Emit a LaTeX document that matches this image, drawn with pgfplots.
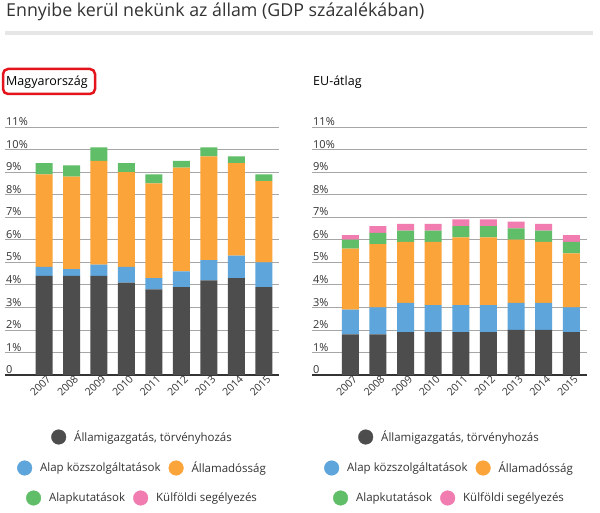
\documentclass[border=0pt]{standalone}
\usepackage{fontspec}
\setmainfont{Open Sans}
\usepackage{pgfplots}
\pgfplotsset{compat=1.18}
\definecolor{cDark}{HTML}{4D4D4D}
\definecolor{cBlue}{HTML}{5DA5DA}
\definecolor{cOrange}{HTML}{FAA43A}
\definecolor{cGreen}{HTML}{60BD68}
\definecolor{cPink}{HTML}{F17CB0}
\definecolor{cText}{HTML}{333333}
\definecolor{cGrid}{HTML}{A6A6A6}
\definecolor{cRule}{HTML}{E6E6E6}
\definecolor{cRed}{HTML}{E3141B}

\pgfplotsset{
  panel/.style={
    scale only axis, width=274pt, height=248pt, anchor=south west,
    ybar stacked, bar width=17pt,
    ymin=0, ymax=11,
    axis x line=bottom, axis y line=left,
    x axis line style={draw=cText, line width=1.4pt, -},
    y axis line style={draw=none},
    major tick length=0pt,
    ytick={0,1,...,11},
    yticklabels={0,1\%,2\%,3\%,4\%,5\%,6\%,7\%,8\%,9\%,10\%,11\%},
    xtick={0,1,...,8},
    xticklabels={2007,2008,2009,2010,2011,2012,2013,2014,2015},
    /pgf/number format/assume math mode=true,
    ymajorgrids, grid style={draw=cGrid, line width=0.8pt},
    yticklabel style={anchor=south west, font=\fontsize{11}{12}\selectfont, text=cText, inner sep=1pt, xshift=0pt},
    xticklabel style={rotate=45, anchor=east, font=\fontsize{10.5}{12}\selectfont, text=cText, inner sep=1pt, xshift=3pt, yshift=-5pt},
    every axis plot/.append style={draw=none},
    clip=false,
  },
  legrow/.style={
    hide axis, scale only axis, width=1pt, height=1pt,
    xmin=0, xmax=1, ymin=0, ymax=1, anchor=center,
    legend columns=-1,
    legend style={at={(0.5,0.5)}, anchor=center, draw=none, fill=none,
      font=\fontsize{11.5}{13}\selectfont, text=cText,
      /tikz/every odd column/.append style={column sep=7pt},
      /tikz/every even column/.append style={column sep=7pt},
      nodes={inner sep=1pt}},
    legend image code/.code={\fill[##1] (0pt,0pt) circle (7.3pt);},
  },
}

\begin{document}
\begin{tikzpicture}
\useasboundingbox (0pt,0pt) rectangle (600pt,512pt);
\fill[white] (0pt,0pt) rectangle (600pt,512pt);
% title
\node[anchor=base west, inner sep=0pt, text=cText, font=\fontsize{17.8}{20}\selectfont] at (6pt,495pt) {Ennyibe kerül nekünk az állam (GDP százalékában)};
\fill[cRule] (5pt,477pt) rectangle (593pt,481pt);
% panel labels
\node[anchor=base west, inner sep=0pt, text=black, font=\fontsize{12.5}{14}\selectfont] at (6pt,426pt) {Magyarország};
\draw[cRed, line width=2.5pt, rounded corners=5pt] (3pt,418pt) rectangle (95pt,443pt);
\node[anchor=base west, inner sep=0pt, text=black, font=\fontsize{12.5}{14}\selectfont] at (313pt,426pt) {EU-átlag};

% Hungary
\begin{axis}[panel, at={(5pt,137pt)}, xmin=-1.42, xmax=8.55]
\addplot[fill=cDark] coordinates {(0,4.4) (1,4.4) (2,4.4) (3,4.1) (4,3.8) (5,3.9) (6,4.2) (7,4.3) (8,3.9)};
\addplot[fill=cBlue] coordinates {(0,0.4) (1,0.3) (2,0.5) (3,0.7) (4,0.5) (5,0.7) (6,0.9) (7,1.0) (8,1.1)};
\addplot[fill=cOrange] coordinates {(0,4.1) (1,4.1) (2,4.6) (3,4.2) (4,4.2) (5,4.6) (6,4.6) (7,4.1) (8,3.6)};
\addplot[fill=cGreen] coordinates {(0,0.5) (1,0.5) (2,0.6) (3,0.4) (4,0.4) (5,0.3) (6,0.4) (7,0.3) (8,0.3)};
\addplot[fill=cPink] coordinates {(0,0) (1,0) (2,0) (3,0) (4,0) (5,0) (6,0) (7,0) (8,0)};
\end{axis}

% EU
\begin{axis}[panel, at={(312pt,137pt)}, width=275pt, xmin=-1.39, xmax=8.57]
\addplot[fill=cDark] coordinates {(0,1.8) (1,1.8) (2,1.9) (3,1.9) (4,1.9) (5,1.9) (6,2.0) (7,2.0) (8,1.9)};
\addplot[fill=cBlue] coordinates {(0,1.1) (1,1.2) (2,1.3) (3,1.2) (4,1.2) (5,1.2) (6,1.2) (7,1.2) (8,1.1)};
\addplot[fill=cOrange] coordinates {(0,2.7) (1,2.8) (2,2.7) (3,2.8) (4,3.0) (5,3.0) (6,2.8) (7,2.7) (8,2.4)};
\addplot[fill=cGreen] coordinates {(0,0.4) (1,0.5) (2,0.5) (3,0.5) (4,0.5) (5,0.5) (6,0.5) (7,0.5) (8,0.5)};
\addplot[fill=cPink] coordinates {(0,0.2) (1,0.3) (2,0.3) (3,0.3) (4,0.3) (5,0.3) (6,0.3) (7,0.3) (8,0.3)};
\end{axis}

% legends left
\begin{axis}[legrow, at={(142pt,75pt)}]
\addlegendimage{cDark}\addlegendentry{Államigazgatás, törvényhozás}
\end{axis}
\begin{axis}[legrow, at={(142pt,44pt)}]
\addlegendimage{cBlue}\addlegendentry{Alap közszolgáltatások}
\addlegendimage{cOrange}\addlegendentry{Államadósság}
\end{axis}
\begin{axis}[legrow, at={(142pt,14pt)}]
\addlegendimage{cGreen}\addlegendentry{Alapkutatások}
\addlegendimage{cPink}\addlegendentry{Külföldi segélyezés}
\end{axis}
% legends right
\begin{axis}[legrow, at={(449pt,75pt)}]
\addlegendimage{cDark}\addlegendentry{Államigazgatás, törvényhozás}
\end{axis}
\begin{axis}[legrow, at={(449pt,44pt)}]
\addlegendimage{cBlue}\addlegendentry{Alap közszolgáltatások}
\addlegendimage{cOrange}\addlegendentry{Államadósság}
\end{axis}
\begin{axis}[legrow, at={(449pt,14pt)}]
\addlegendimage{cGreen}\addlegendentry{Alapkutatások}
\addlegendimage{cPink}\addlegendentry{Külföldi segélyezés}
\end{axis}
\end{tikzpicture}
\end{document}
